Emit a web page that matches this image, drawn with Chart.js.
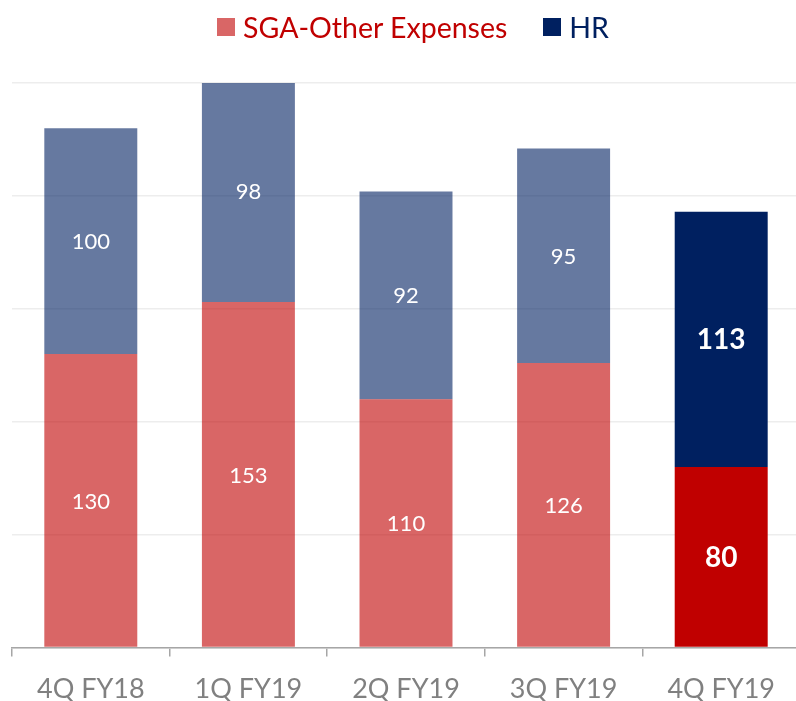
<!DOCTYPE html>
<html>
<head>
<meta charset="utf-8">
<script src="https://cdn.jsdelivr.net/npm/chart.js@4.4.1/dist/chart.umd.min.js"></script>
<style>
    html, body { margin: 0; padding: 0; background: #fff; overflow: hidden; }
    #wrap { position: absolute; left: 0; top: 0; width: 804px; height: 721px; }
    #legend {
        position: absolute; left: 19px; top: 0; width: 788px; height: 54px;
        display: flex; justify-content: center; align-items: center;
        font-family: Lato, "Open Sans", sans-serif; font-size: 28.5px;
    }
    .legend-item { display: flex; align-items: center; margin: 0 18px; }
    .legend-box { width: 18px; height: 18px; margin-right: 8px; }
</style>
</head>
<body>
<div id="wrap">
    <canvas id="costChart" width="804" height="721"></canvas>
    <div id="legend"></div>
</div>
<script>
// ================================
// Данные графика
// ================================
const quarters = ['4Q FY18', '1Q FY19', '2Q FY19', '3Q FY19', '4Q FY19'];
const sgaOther = [130, 153, 110, 126, 80];
const hrCosts = [100, 98, 92, 95, 113];
const seriesNames = ['SGA-Other Expenses', 'HR'];

const RED = '#C00000';
const NAVY = '#002060';
const RED_FADED = 'rgba(192, 0, 0, 0.6)';
const NAVY_FADED = 'rgba(0, 32, 96, 0.6)';

// последний квартал — насыщенным цветом, остальные приглушённые
const lastIdx = quarters.length - 1;
const sgaColors = quarters.map((q, i) => i === lastIdx ? RED : RED_FADED);
const hrColors = quarters.map((q, i) => i === lastIdx ? NAVY : NAVY_FADED);

// Легенда (HTML) — цвет квадрата и цвет текста по серии
const legendSpec = [
    { text: seriesNames[0], box: RED_FADED, color: RED },
    { text: seriesNames[1], box: NAVY, color: NAVY }
];
const legendEl = document.getElementById('legend');
legendSpec.forEach(item => {
    const el = document.createElement('div');
    el.className = 'legend-item';
    const box = document.createElement('span');
    box.className = 'legend-box';
    box.style.background = item.box;
    const label = document.createElement('span');
    label.textContent = item.text;
    label.style.color = item.color;
    el.appendChild(box);
    el.appendChild(label);
    legendEl.appendChild(el);
});

Chart.defaults.font.family = 'Lato, "Open Sans", sans-serif';

// Подписи значений внутри сегментов
const segmentLabels = {
    id: 'segmentLabels',
    afterDatasetsDraw(chart) {
        const ctx = chart.ctx;
        ctx.save();
        ctx.textAlign = 'center';
        ctx.textBaseline = 'middle';
        ctx.fillStyle = '#ffffff';
        chart.data.datasets.forEach((ds, di) => {
            const meta = chart.getDatasetMeta(di);
            meta.data.forEach((bar, i) => {
                const bold = i === lastIdx;
                ctx.font = bold ? 'bold 28px Lato, sans-serif' : '22px Lato, sans-serif';
                const y = (bar.y + bar.base) / 2;
                ctx.fillText(String(ds.data[i]), bar.x, y + 1);
            });
        });
        ctx.restore();
    }
};

new Chart(document.getElementById('costChart'), {
    type: 'bar',
    data: {
        labels: quarters,
        datasets: [{
            label: seriesNames[0],
            data: sgaOther,
            backgroundColor: sgaColors,
            categoryPercentage: 1,
            barPercentage: 0.59
        }, {
            label: seriesNames[1],
            data: hrCosts,
            backgroundColor: hrColors,
            categoryPercentage: 1,
            barPercentage: 0.59
        }]
    },
    options: {
        responsive: false,
        animation: false,
        layout: { padding: { left: 12, right: 4, top: 83, bottom: 0 } },
        plugins: {
            tooltip: { enabled: false },
            legend: { display: false }
        },
        scales: {
            x: {
                stacked: true,
                grid: {
                    drawOnChartArea: false,
                    drawTicks: true,
                    tickLength: 9,
                    color: '#A6A6A6',
                    lineWidth: 1.5
                },
                border: { color: '#A6A6A6', width: 1.5 },
                ticks: {
                    color: '#808080',
                    font: { size: 27 },
                    padding: 16
                }
            },
            y: {
                stacked: true,
                min: 0,
                max: 250,
                ticks: { display: false, stepSize: 50 },
                border: { display: false },
                grid: { color: '#EDEDED', drawTicks: false, lineWidth: 1.5 }
            }
        }
    },
    plugins: [segmentLabels]
});
</script>
</body>
</html>
